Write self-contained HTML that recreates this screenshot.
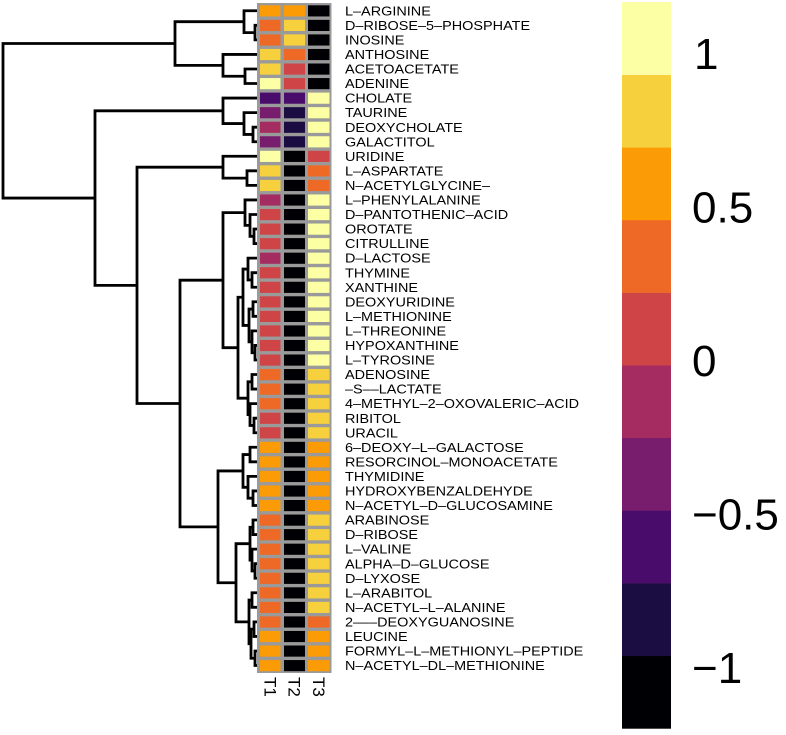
<!DOCTYPE html>
<html><head><meta charset="utf-8"><style>body{margin:0;background:#fff}svg{display:block}</style></head>
<body>
<svg id="chart" width="786" height="735" xmlns="http://www.w3.org/2000/svg" font-family="'Liberation Sans', sans-serif"></svg>
<script>
const metabolites=["L-ARGININE","D-RIBOSE-5-PHOSPHATE","INOSINE","ANTHOSINE","ACETOACETATE","ADENINE","CHOLATE","TAURINE","DEOXYCHOLATE","GALACTITOL","URIDINE","L-ASPARTATE","N-ACETYLGLYCINE-","L-PHENYLALANINE","D-PANTOTHENIC-ACID","OROTATE","CITRULLINE","D-LACTOSE","THYMINE","XANTHINE","DEOXYURIDINE","L-METHIONINE","L-THREONINE","HYPOXANTHINE","L-TYROSINE","ADENOSINE","-S--LACTATE","4-METHYL-2-OXOVALERIC-ACID","RIBITOL","URACIL","6-DEOXY-L-GALACTOSE","RESORCINOL-MONOACETATE","THYMIDINE","HYDROXYBENZALDEHYDE","N-ACETYL-D-GLUCOSAMINE","ARABINOSE","D-RIBOSE","L-VALINE","ALPHA-D-GLUCOSE","D-LYXOSE","L-ARABITOL","N-ACETYL-L-ALANINE","2---DEOXYGUANOSINE","LEUCINE","FORMYL-L-METHIONYL-PEPTIDE","N-ACETYL-DL-METHIONINE"];
const columns=["T1","T2","T3"];
const valuesT1=[0.5,0.3,0.3,0.7,0.7,0.9,-0.5,-0.3,-0.1,-0.3,0.9,0.7,0.7,-0.1,0.1,0.1,0.1,-0.1,0.1,0.1,0.1,0.1,0.1,0.1,0.1,0.3,0.3,0.3,0.1,0.1,0.5,0.5,0.5,0.5,0.5,0.3,0.3,0.3,0.3,0.3,0.3,0.3,0.3,0.5,0.5,0.5];
const valuesT2=[0.5,0.7,0.7,0.3,0.1,0.1,-0.5,-0.7,-0.7,-0.7,-0.9,-0.9,-0.9,-0.9,-0.9,-0.9,-0.9,-0.9,-0.9,-0.9,-0.9,-0.9,-0.9,-0.9,-0.9,-0.9,-0.9,-0.9,-0.9,-0.9,-0.9,-0.9,-0.9,-0.9,-0.9,-0.9,-0.9,-0.9,-0.9,-0.9,-0.9,-0.9,-0.9,-0.9,-0.9,-0.9];
const valuesT3=[-0.9,-0.9,-0.9,-0.9,-0.9,-0.9,0.9,0.9,0.9,0.9,0.1,0.3,0.3,0.9,0.9,0.9,0.9,0.9,0.9,0.9,0.9,0.9,0.9,0.9,0.9,0.7,0.7,0.7,0.7,0.7,0.5,0.5,0.5,0.5,0.5,0.7,0.7,0.7,0.7,0.7,0.7,0.7,0.3,0.5,0.5,0.5];
const legendTicks=[1,0.5,0,-0.5,-1];
const legendTickLabels=["1","0.5","0","\u22120.5","\u22121"];
const palette=["#000004","#1b0c41","#4a0c6b","#781c6d","#a52c60","#cf4446","#ed6925","#fb9b06","#f7d13d","#fcffa4"];

const NS="http://www.w3.org/2000/svg";
const svg=document.getElementById('chart');
function mk(tag,attrs,parent){const e=document.createElementNS(NS,tag);for(const k in attrs)e.setAttribute(k,attrs[k]);(parent||svg).appendChild(e);return e;}
const top0=3.5,rowH=14.55;
function rowY(i){return top0+rowH*i;}
function rowC(i){return top0+rowH*(i+0.5);}
const colX=[260,284,308],colW=[20.5,21,21.5];
function colorOf(v){let b=Math.floor((v+1)/0.2);b=Math.max(0,Math.min(9,b));return palette[b];}

const frame=mk('rect',{x:257,y:3,width:74.5,height:670,fill:'#9a9a9a'});


const series=[valuesT1,valuesT2,valuesT3];
for(let c=0;c<3;c++){
  for(let i=0;i<metabolites.length;i++){
    const r=mk('rect',{x:colX[c],y:rowY(i)+1.8,width:colW[c],height:rowH-3.4,fill:colorOf(series[c][i])});
    
    
  }
}
const lg=mk('g',{transform:'translate(345,0) scale(1.12,1)'});


metabolites.forEach((m,i)=>{
  const t=mk('text',{x:0,y:rowC(i)+4.6,'font-size':12.9,fill:'#000'},lg);
  t.textContent=m.replace(/-/g,'\u2013');
  
  
});
columns.forEach((c,j)=>{
  const cx=colX[j]+colW[j]/2-6;
  const t=mk('text',{x:0,y:0,'font-size':17,fill:'#000',transform:`translate(${cx},677) rotate(90)`});
  t.textContent=c;
  
  
});
const tree=[3,
 [175,[244,0,[255,1,2]],[223,3,[245,4,5]]],
 [95,
  [223,6,[244,7,[253,8,9]]],
  [137,
   [223,10,[247,11,12]],
   [180,
    [223,[245,13,[250,14,[254,15,16]]],
         [238,[243,[248,17,[252,18,19]],[249,[253,20,21],[252,22,[255,23,24]]]],
              [248,[252,25,26],[250,27,[254,28,29]]]]],
    [218,[243,[250,30,31],[248,32,[253,33,34]]],
         [236,[250,[253,35,36],[252,37,[255,38,39]]],[249,[252,40,41],[251,[254,42,43],[255,44,45]]]]]]]]];
let d='';
function draw(n){
  if(typeof n==='number')return {x:257,y:rowC(n)};
  const a=draw(n[1]),b=draw(n[2]);const x=n[0];
  d+=`M${a.x},${a.y}H${x}V${b.y}H${b.x}`;
  return {x:x,y:(a.y+b.y)/2};
}
draw(tree);
const dp=mk('path',{d:d,fill:'none',stroke:'#000','stroke-width':2.8});


function ly(v){return 360-307*v;}
const binEdges=[];for(let k=0;k<=10;k++)binEdges.push(-1.2+k*0.2366);
for(let k=0;k<10;k++){
  const y1=ly(binEdges[k+1]),y0=ly(binEdges[k]);
  const r=mk('rect',{x:622,y:y1,width:49,height:y0-y1+0.3,fill:palette[k]});
  
  
}
legendTicks.forEach((v,i)=>{
  const t=mk('text',{x:i==0?694:692,y:ly(v)+16,'font-size':44,fill:'#000'});
  t.textContent=legendTickLabels[i];
  
  
});
</script>
</body></html>
